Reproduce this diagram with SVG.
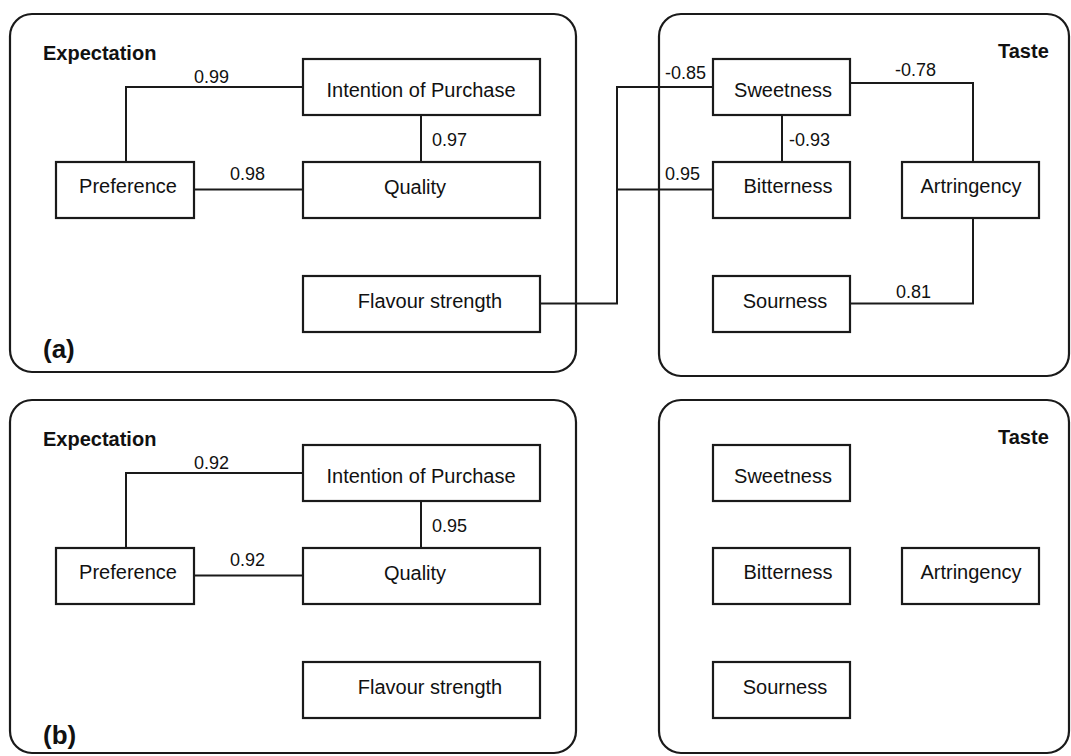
<svg xmlns="http://www.w3.org/2000/svg" width="1071" height="756" viewBox="0 0 1071 756">
<style>
.panel{fill:none;stroke:#1a1a1a;stroke-width:2.2}
.box{fill:#fff;stroke:#1a1a1a;stroke-width:2.2}
.lbl{font-family:"Liberation Sans",Arial,sans-serif;font-size:20px;fill:#111;text-anchor:middle}
.num{font-family:"Liberation Sans",Arial,sans-serif;font-size:18px;fill:#111}
.ttl{font-family:"Liberation Sans",Arial,sans-serif;font-size:20px;font-weight:bold;fill:#111}
.tag{font-family:"Liberation Sans",Arial,sans-serif;font-size:26px;font-weight:bold;fill:#111}
.wire{fill:none;stroke:#1a1a1a;stroke-width:2}
</style>
<rect width="1071" height="756" fill="#fff"/>
<g id="panels">
<rect class="panel" x="10" y="14" width="566" height="358" rx="22"/>
<rect class="panel" x="659" y="14" width="410" height="362" rx="22"/>
<rect class="panel" x="10" y="400" width="566" height="353" rx="22"/>
<rect class="panel" x="659" y="400" width="410" height="353" rx="22"/>
<text class="ttl" x="43" y="60">Expectation</text>
<text class="ttl" x="998" y="58">Taste</text>
<text class="tag" x="43" y="358">(a)</text>
<text class="ttl" x="43" y="446">Expectation</text>
<text class="ttl" x="998" y="444">Taste</text>
<text class="tag" x="43" y="744">(b)</text>
</g>
<g id="connectors">
<path class="wire" d="M126,162 V87 H303"/>
<path class="wire" d="M194,189.5 H303"/>
<path class="wire" d="M421,115 V162"/>
<path class="wire" d="M540,303.5 H617 V87 H713"/>
<path class="wire" d="M617,189.5 H713"/>
<path class="wire" d="M782,115 V162"/>
<path class="wire" d="M850,83 H973 V162"/>
<path class="wire" d="M973,218 V303.5 H850"/>
<path class="wire" d="M126,548 V473 H303"/>
<path class="wire" d="M194,575.5 H303"/>
<path class="wire" d="M421,501 V548"/>
<text class="num" x="194" y="83">0.99</text>
<text class="num" x="230" y="180">0.98</text>
<text class="num" x="432" y="146">0.97</text>
<text class="num" x="665" y="79">-0.85</text>
<text class="num" x="665" y="180">0.95</text>
<text class="num" x="789" y="146">-0.93</text>
<text class="num" x="895" y="76">-0.78</text>
<text class="num" x="896" y="298">0.81</text>
<text class="num" x="194" y="469">0.92</text>
<text class="num" x="230" y="566">0.92</text>
<text class="num" x="432" y="532">0.95</text>
</g>
<g id="a-intention"><rect class="box" x="303" y="59" width="237" height="56"/><text class="lbl" x="421" y="97">Intention of Purchase</text></g>
<g id="a-preference"><rect class="box" x="56" y="162" width="138" height="56"/><text class="lbl" x="128" y="193">Preference</text></g>
<g id="a-quality"><rect class="box" x="303" y="162" width="237" height="56"/><text class="lbl" x="415" y="194">Quality</text></g>
<g id="a-flavour"><rect class="box" x="303" y="276" width="237" height="56"/><text class="lbl" x="430" y="308">Flavour strength</text></g>
<g id="a-sweetness"><rect class="box" x="713" y="59" width="137" height="56"/><text class="lbl" x="783" y="97">Sweetness</text></g>
<g id="a-bitterness"><rect class="box" x="713" y="162" width="137" height="56"/><text class="lbl" x="788" y="193">Bitterness</text></g>
<g id="a-artringency"><rect class="box" x="902" y="162" width="137" height="56"/><text class="lbl" x="971" y="193">Artringency</text></g>
<g id="a-sourness"><rect class="box" x="713" y="276" width="137" height="56"/><text class="lbl" x="785" y="308">Sourness</text></g>
<g id="b-intention"><rect class="box" x="303" y="445" width="237" height="56"/><text class="lbl" x="421" y="483">Intention of Purchase</text></g>
<g id="b-preference"><rect class="box" x="56" y="548" width="138" height="56"/><text class="lbl" x="128" y="579">Preference</text></g>
<g id="b-quality"><rect class="box" x="303" y="548" width="237" height="56"/><text class="lbl" x="415" y="580">Quality</text></g>
<g id="b-flavour"><rect class="box" x="303" y="662" width="237" height="56"/><text class="lbl" x="430" y="694">Flavour strength</text></g>
<g id="b-sweetness"><rect class="box" x="713" y="445" width="137" height="56"/><text class="lbl" x="783" y="483">Sweetness</text></g>
<g id="b-bitterness"><rect class="box" x="713" y="548" width="137" height="56"/><text class="lbl" x="788" y="579">Bitterness</text></g>
<g id="b-artringency"><rect class="box" x="902" y="548" width="137" height="56"/><text class="lbl" x="971" y="579">Artringency</text></g>
<g id="b-sourness"><rect class="box" x="713" y="662" width="137" height="56"/><text class="lbl" x="785" y="694">Sourness</text></g>
</svg>
